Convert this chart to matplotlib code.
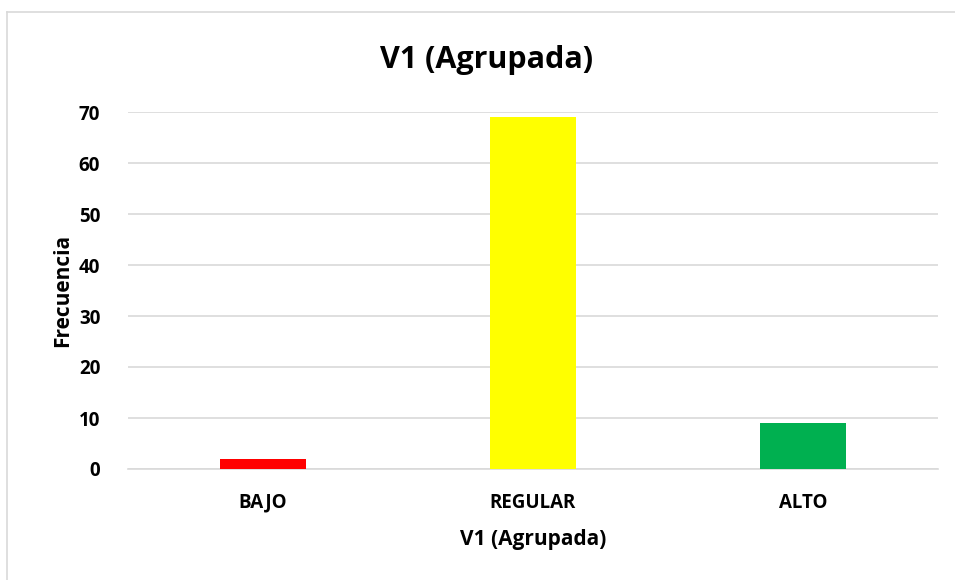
import matplotlib.pyplot as plt
from matplotlib.lines import Line2D

categories = ["BAJO", "REGULAR", "ALTO"]
counts = [2, 69, 9]
bar_colors = ["#FF0000", "#FFFF00", "#00B050"]
y_ticks = [0, 10, 20, 30, 40, 50, 60, 70]

plt.rcParams["font.family"] = ["Open Sans", "DejaVu Sans"]
plt.rcParams["font.weight"] = "bold"

W, H = 955, 580
fig = plt.figure(figsize=(W / 100, H / 100), dpi=100)
ax = fig.add_axes([128 / W, 1 - 469 / H, (938 - 128) / W, (469 - 112) / H])

x = range(len(categories))
ax.bar(x, counts, width=0.315, color=bar_colors, zorder=3)

ax.set_xlim(-0.5, len(categories) - 0.5)
ax.set_ylim(0, 70)
ax.set_yticks(y_ticks)
ax.set_xticks(list(x))
ax.set_xticklabels(categories)
ax.grid(axis="y", color="#D9D9D9", linewidth=1.2, zorder=0)
for side in ["top", "right", "left"]:
    ax.spines[side].set_visible(False)
ax.spines["bottom"].set_color("#D9D9D9")
ax.spines["bottom"].set_linewidth(1.2)
ax.tick_params(length=0, labelsize=13.5, pad=17)
ax.tick_params(axis="y", pad=20)
for lbl in ax.get_xticklabels() + ax.get_yticklabels():
    lbl.set_fontweight("bold")

ax.set_xlabel("V1 (Agrupada)", fontsize=15, fontweight="bold", labelpad=12)
ax.set_ylabel("Frecuencia", fontsize=15, fontweight="bold", labelpad=4)
fig.text(487 / W, 1 - 60 / H, "V1 (Agrupada)", fontsize=22, fontweight="bold",
         ha="center", va="center")

# chart frame (only left and top edges visible in the crop)
fig.add_artist(Line2D([7 / W, 7 / W], [0, 1 - 12 / H], transform=fig.transFigure,
                      color="#D9D9D9", linewidth=1.2))
fig.add_artist(Line2D([7 / W, 1], [1 - 12 / H, 1 - 12 / H], transform=fig.transFigure,
                      color="#D9D9D9", linewidth=1.2))

fig.savefig("out.png", dpi=100)
plt.close(fig)
